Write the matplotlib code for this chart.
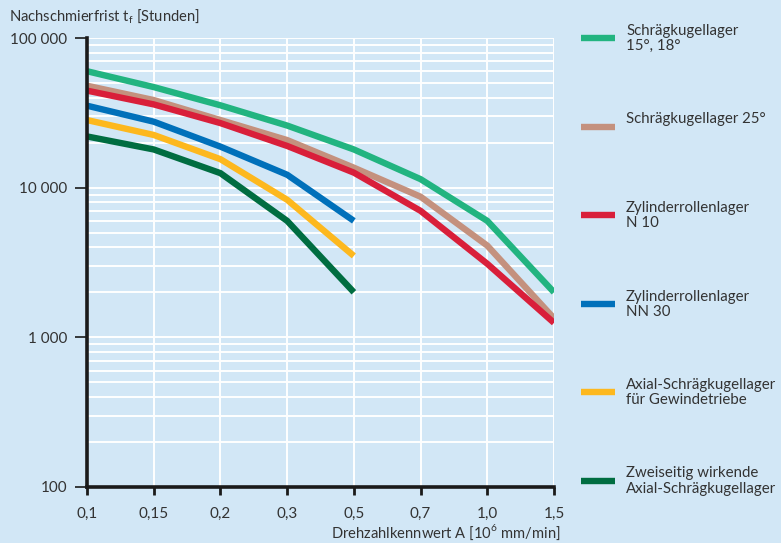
import matplotlib
matplotlib.use('Agg')
import matplotlib.pyplot as plt
import numpy as np
from matplotlib.lines import Line2D
from matplotlib.ticker import FixedLocator, NullFormatter

plt.rcParams['font.family'] = ['Lato', 'DejaVu Sans']

# Drehzahlkennwert A (Kategorien, gleichmäßig verteilt)
x_labels = ['0,1', '0,15', '0,2', '0,3', '0,5', '0,7', '1,0', '1,5']

# Nachschmierfrist in Stunden
schraeg_15_18 = [60000, 47000, 35500, 26000, 18000, 11400, 6000, 2000]
schraeg_25 = [48000, 38500, 28300, 20800, 13600, 8700, 4100, 1340]
zyl_n10 = [44500, 36000, 27000, 19000, 12600, 7000, 3100, 1250]
zyl_nn30 = [35300, 27600, 18800, 12200, 6000]
axial_gewinde = [28300, 22500, 15500, 8300, 3500]
axial_zweiseitig = [22000, 18000, 12500, 6000, 2000]

series = [schraeg_15_18, schraeg_25, zyl_n10, zyl_nn30, axial_gewinde, axial_zweiseitig]
colors = ['#22b480', '#c4917e', '#d91f3a', '#0070ba', '#fdb81e', '#006d41']
names = ['Schrägkugellager\n15°, 18°', 'Schrägkugellager 25°', 'Zylinderrollenlager\nN 10',
         'Zylinderrollenlager\nNN 30', 'Axial-Schrägkugellager\nfür Gewindetriebe',
         'Zweiseitig wirkende\nAxial-Schrägkugellager']

bg = '#d2e7f6'
txt = '#333333'

fig = plt.figure(figsize=(7.81, 5.43), dpi=100, facecolor=bg)
ax = fig.add_axes([87 / 781, 56 / 543, 467 / 781, 449 / 543])
ax.set_facecolor(bg)

for vals, c in zip(series, colors):
    ax.plot(range(len(vals)), vals, color=c, lw=4.6, solid_capstyle='butt',
            solid_joinstyle='miter', zorder=3)

ax.set_yscale('log')
ax.set_ylim(100, 100000)
ax.set_xlim(0, 7)
ax.set_xticks(range(8))
ax.set_xticklabels(x_labels)
ax.set_yticks([100, 1000, 10000, 100000])
ax.set_yticklabels(['100', '1 000', '10 000', '100 000'])
minor = [m * 10 ** k for k in range(2, 5) for m in range(2, 10)]
ax.yaxis.set_minor_locator(FixedLocator(minor))
ax.yaxis.set_minor_formatter(NullFormatter())

ax.grid(True, which='both', axis='y', color='white', lw=1.4, zorder=1)
ax.grid(True, which='major', axis='x', color='white', lw=1.4, zorder=1)

for s in ['top', 'right']:
    ax.spines[s].set_visible(False)
for s in ['left', 'bottom']:
    ax.spines[s].set_linewidth(2.6)
    ax.spines[s].set_color('#1a1a1a')
    ax.spines[s].set_zorder(4)

ax.tick_params(axis='x', which='major', length=6, width=2, color='#1a1a1a',
               labelsize=11, labelcolor=txt, pad=8)
ax.tick_params(axis='y', which='major', length=9, width=1.2, color='#1a1a1a',
               labelsize=11, labelcolor=txt, pad=5)
ax.tick_params(axis='y', which='minor', length=0)

fig.text(9 / 781, 1 - 17 / 543, 'Nachschmierfrist t$_\\mathregular{f}$ [Stunden]',
         fontsize=10.6, color=txt, va='center', ha='left')
fig.text(561 / 781, 1 - 532 / 543, 'Drehzahlkennwert A [10$^\\mathregular{6}$ mm/min]',
         fontsize=10.6, color=txt, va='center', ha='right')

# Legende rechts
for i, (name, c) in enumerate(zip(names, colors)):
    y = 38 + i * 88.5
    fig.add_artist(Line2D([581 / 781, 615 / 781], [1 - y / 543, 1 - y / 543],
                          color=c, lw=4.6, solid_capstyle='butt'))
    fig.text(626 / 781, 1 - (y - 14) / 543, name, fontsize=10.8, color=txt,
             va='top', ha='left', linespacing=1.12)

fig.savefig('out.png', dpi=100, facecolor=bg)
